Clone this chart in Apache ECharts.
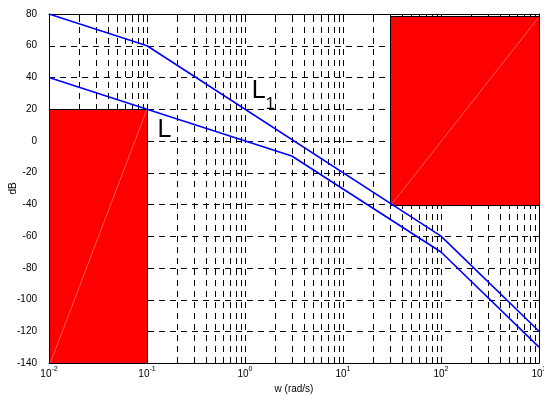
<!DOCTYPE html>
<html><head><meta charset="utf-8">
<script src="https://cdn.jsdelivr.net/npm/echarts@6/dist/echarts.min.js"></script>
<style>html,body{margin:0;padding:0;background:#fff}#c{width:544px;height:396px}</style>
</head><body><div id="c"></div>
<script>
// ---- data ----
const xRange = [0.01, 1000];
const yRange = [-140, 80];
const yTicks = [-140, -120, -100, -80, -60, -40, -20, 0, 20, 40, 60, 80];
const xDecades = [0.01, 0.1, 1, 10, 100, 1000];
const lineL1 = [[0.01, 80], [0.1, 60], [100, -60], [1000, -120]];
const lineL = [[0.01, 40], [0.1, 20], [3, -9.5], [100, -70], [1000, -130]];
// rectangles: [xFrom, xTo, yFrom, yTo]
const rectLeft = [0.01, 0.1, -140, 20];
const rectRight = [30, 1000, -40, 79];
// annotations: [x, y, label, subscript]
const labelL = [0.128, 15, 'L', ''];
const labelL1 = [1.17, 39, 'L', '1'];

// grid positions along log axis (major + minor)
const xGrid = [];
for (let k = 0; k < xDecades.length - 1; k++) {
  for (let m = 1; m <= 9; m++) {
    const v = xDecades[k] * m;
    if (v > xRange[0] && v < xRange[1]) xGrid.push([v, 0]);
  }
}
const yGrid = yTicks.filter(v => v > yRange[0] && v < yRange[1]).map(v => [1, v]);

const dash = [6, 5];
function vGrid(params, api) {
  const x = api.value(0);
  const a = api.coord([x, yRange[0]]);
  const b = api.coord([x, yRange[1]]);
  const px = Math.round(a[0]) + 0.5;
  const major = Math.abs(Math.log10(x) - Math.round(Math.log10(x))) < 1e-9;
  const tl = major ? 5 : 3;
  return {
    type: 'group', children: [
      { type: 'line', shape: { x1: px, y1: a[1], x2: px, y2: b[1] }, style: { stroke: '#000', lineWidth: 1, lineDash: dash } },
      { type: 'line', shape: { x1: px, y1: a[1], x2: px, y2: a[1] - tl }, style: { stroke: '#000', lineWidth: 1 } },
      { type: 'line', shape: { x1: px, y1: b[1], x2: px, y2: b[1] + tl }, style: { stroke: '#000', lineWidth: 1 } }
    ]
  };
}
function hGrid(params, api) {
  const y = api.value(1);
  const a = api.coord([xRange[0], y]);
  const b = api.coord([xRange[1], y]);
  const py = Math.round(a[1]) + 0.5;
  return {
    type: 'group', children: [
      { type: 'line', shape: { x1: a[0], y1: py, x2: b[0], y2: py }, style: { stroke: '#000', lineWidth: 1, lineDash: dash } },
      { type: 'line', shape: { x1: a[0], y1: py, x2: a[0] + 5, y2: py }, style: { stroke: '#000', lineWidth: 1 } },
      { type: 'line', shape: { x1: b[0], y1: py, x2: b[0] - 5, y2: py }, style: { stroke: '#000', lineWidth: 1 } }
    ]
  };
}
function rectItem(params, api) {
  const p1 = api.coord([api.value(0), api.value(2)]);
  const p2 = api.coord([api.value(1), api.value(3)]);
  const x = Math.round(Math.min(p1[0], p2[0])) + 0.5, y = Math.round(Math.min(p1[1], p2[1])) + 0.5;
  const w = Math.round(Math.abs(p2[0] - p1[0])), h = Math.round(Math.abs(p2[1] - p1[1]));
  return {
    type: 'group', children: [
      { type: 'rect', shape: { x: x, y: y, width: w, height: h }, style: { fill: '#ff0000', stroke: '#000', lineWidth: 1 } },
      { type: 'line', shape: { x1: x + 1, y1: y + h - 1, x2: x + w - 1, y2: y + 1 }, style: { stroke: 'rgba(255,190,190,0.8)', lineWidth: 0.6 } }
    ]
  };
}
function textItem(params, api) {
  const p = api.coord([api.value(0), api.value(1)]);
  const item = params.seriesName === 'labL' ? labelL : labelL1;
  const t = item[3] ? '{a|' + item[2] + '}{b|' + item[3] + '}' : '{a|' + item[2] + '}';
  return {
    type: 'text', x: p[0], y: p[1],
    style: {
      text: t, fill: '#000', align: 'left', verticalAlign: 'top',
      rich: {
        a: { fontSize: 25, fontFamily: 'Liberation Sans, Arial', fill: '#000', verticalAlign: 'top', lineHeight: 26 },
        b: { fontSize: 17, fontFamily: 'Liberation Sans, Arial', fill: '#000', verticalAlign: 'bottom', lineHeight: 34 }
      }
    }
  };
}

const chart = echarts.init(document.getElementById('c'), null, { renderer: 'canvas' });
const font = 'Liberation Sans, Arial, sans-serif';
const axisCommon = {
  axisLine: { show: true, onZero: false, lineStyle: { color: '#000', width: 1 } },
  splitLine: { show: false }
};
chart.setOption({
  animation: false,
  backgroundColor: '#fff',
  grid: { left: 49, right: 5, top: 14, bottom: 33, containLabel: false, outerBoundsMode: 'none' },
  xAxis: [
    Object.assign({
      type: 'log', logBase: 10, min: xRange[0], max: xRange[1], interval: 1, position: 'bottom',
      name: 'w (rad/s)', nameLocation: 'middle', nameGap: 21, nameMoveOverlap: false,
      nameTextStyle: { fontSize: 10, color: '#000', fontFamily: font },
      axisTick: { show: false },
      axisLabel: {
        margin: 4, color: '#000', fontFamily: font,
        formatter: function (v) { return '{b|10}{s|' + Math.round(Math.log10(v)) + '}'; },
        rich: {
          b: { fontSize: 10, fontFamily: font, color: '#000', verticalAlign: 'bottom', lineHeight: 12 },
          s: { fontSize: 7, fontFamily: font, color: '#000', verticalAlign: 'bottom', padding: [0, 0, 6, 0], lineHeight: 8 }
        }
      }
    }, axisCommon),
    Object.assign({
      type: 'log', logBase: 10, min: xRange[0], max: xRange[1], interval: 1, position: 'top',
      axisTick: { show: false }, axisLabel: { show: false }
    }, axisCommon)
  ],
  yAxis: [
    Object.assign({
      type: 'value', min: yRange[0], max: yRange[1], interval: 20, position: 'left',
      name: 'dB', nameLocation: 'middle', nameGap: 31, nameRotate: 90, nameMoveOverlap: false,
      nameTextStyle: { fontSize: 10, color: '#000', fontFamily: font },
      axisTick: { show: false },
      axisLabel: { margin: 12, fontSize: 10, color: '#000', fontFamily: font }
    }, axisCommon),
    Object.assign({
      type: 'value', min: yRange[0], max: yRange[1], interval: 20, position: 'right',
      axisTick: { show: false }, axisLabel: { show: false }
    }, axisCommon)
  ],
  series: [
    { type: 'custom', name: 'vgrid', renderItem: vGrid, data: xGrid, z: 1, silent: true, clip: false },
    { type: 'custom', name: 'hgrid', renderItem: hGrid, data: yGrid, z: 1, silent: true, clip: false },
    { type: 'custom', name: 'rects', renderItem: rectItem, data: [rectLeft, rectRight], z: 2, silent: true, encode: { x: [0, 1], y: [2, 3] } },
    { type: 'line', name: 'L1', data: lineL1, showSymbol: false, lineStyle: { color: '#0000ff', width: 1.6 }, z: 3 },
    { type: 'line', name: 'L', data: lineL, showSymbol: false, lineStyle: { color: '#0000ff', width: 1.6 }, z: 3 },
    { type: 'custom', name: 'labL', renderItem: textItem, data: [labelL], z: 4, clip: false },
    { type: 'custom', name: 'labL1', renderItem: textItem, data: [labelL1], z: 4, clip: false }
  ]
});
</script></body></html>
